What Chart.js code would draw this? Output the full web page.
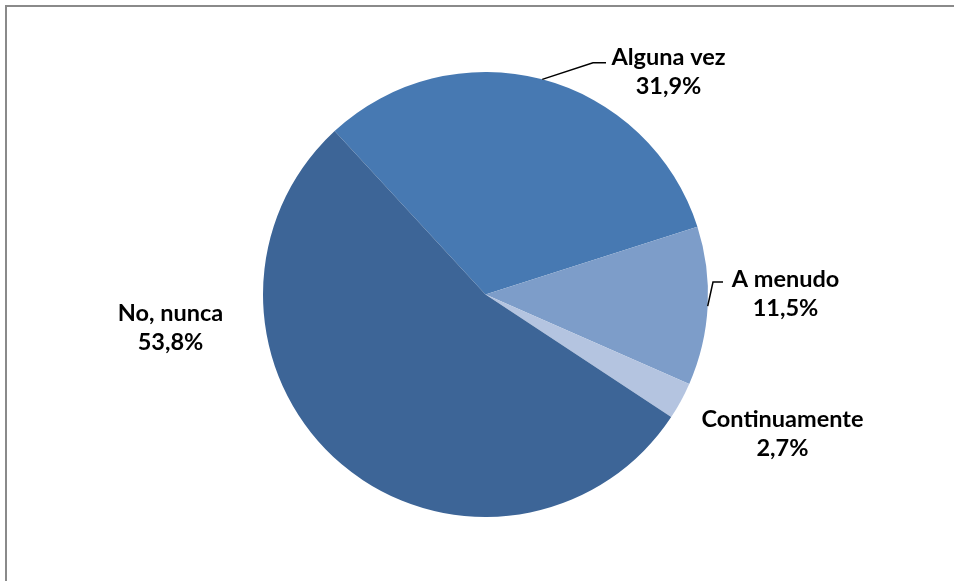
<!DOCTYPE html>
<html>
<head>
<meta charset="utf-8">
<script src="https://cdn.jsdelivr.net/npm/chart.js@4.4.1/dist/chart.umd.min.js"></script>
<style>
  html, body { margin: 0; padding: 0; background: #fff; }
  #wrap { width: 954px; height: 581px; position: relative; }
</style>
</head>
<body>
<div id="wrap"><canvas id="chart" width="954" height="581"></canvas></div>
<script>
// survey answers, percent
const labels = ["Alguna vez", "A menudo", "Continuamente", "No, nunca"];
const values = [31.9, 11.5, 2.7, 53.8];
const colors = ["#4779b2", "#7d9dc9", "#b4c4e0", "#3d6597"];

// where each label sits (text centre x, baseline of first line) relative to pie centre,
// plus optional leader line bend points
const labelSpots = [
  { x: 183, y: -230, leader: [[107.5, -231.8], [120.5, -231.8]] },
  { x: 300, y: -8, leader: [[227.5, -12.5], [237.5, -12.5]] },
  { x: 297, y: 132, leader: null },
  { x: -315, y: 26, leader: null }
];

const FONT = "bold 23.5px Lato";

// draws frame + labels with leader lines
const pieLabels = {
  id: "pieLabels",
  beforeDraw(chart) {
    const ctx = chart.ctx;
    ctx.save();
    ctx.strokeStyle = "#8a8a8a";
    ctx.lineWidth = 2;
    ctx.strokeRect(6, 6, 1200, 1200);
    ctx.restore();
  },
  afterDraw(chart) {
    const ctx = chart.ctx;
    const arcs = chart.getDatasetMeta(0).data;
    ctx.save();
    ctx.font = FONT;
    ctx.fillStyle = "#000";
    ctx.textAlign = "center";
    ctx.textBaseline = "alphabetic";
    arcs.forEach((arc, i) => {
      const p = arc.getProps(["x", "y", "startAngle", "endAngle", "outerRadius"], true);
      const spot = labelSpots[i];
      if (spot.leader) {
        const mid = (p.startAngle + p.endAngle) / 2;
        ctx.beginPath();
        ctx.moveTo(p.x + Math.cos(mid) * p.outerRadius, p.y + Math.sin(mid) * p.outerRadius);
        spot.leader.forEach(pt => ctx.lineTo(p.x + pt[0], p.y + pt[1]));
        ctx.strokeStyle = "#000";
        ctx.lineWidth = 1.5;
        ctx.stroke();
      }
      const pct = values[i].toFixed(1).replace(".", ",") + "%";
      ctx.fillText(labels[i], p.x + spot.x, p.y + spot.y);
      ctx.fillText(pct, p.x + spot.x, p.y + spot.y + 29);
    });
    ctx.restore();
  }
};

new Chart(document.getElementById("chart"), {
  type: "pie",
  data: {
    labels: labels,
    datasets: [{
      data: values,
      backgroundColor: colors,
      borderWidth: 0
    }]
  },
  options: {
    responsive: false,
    animation: false,
    rotation: -42.7,
    layout: { padding: { left: 17, right: 0, top: 72, bottom: 64 } },
    plugins: {
      legend: { display: false },
      tooltip: { enabled: false }
    }
  },
  plugins: [pieLabels]
});
</script>
</body>
</html>
